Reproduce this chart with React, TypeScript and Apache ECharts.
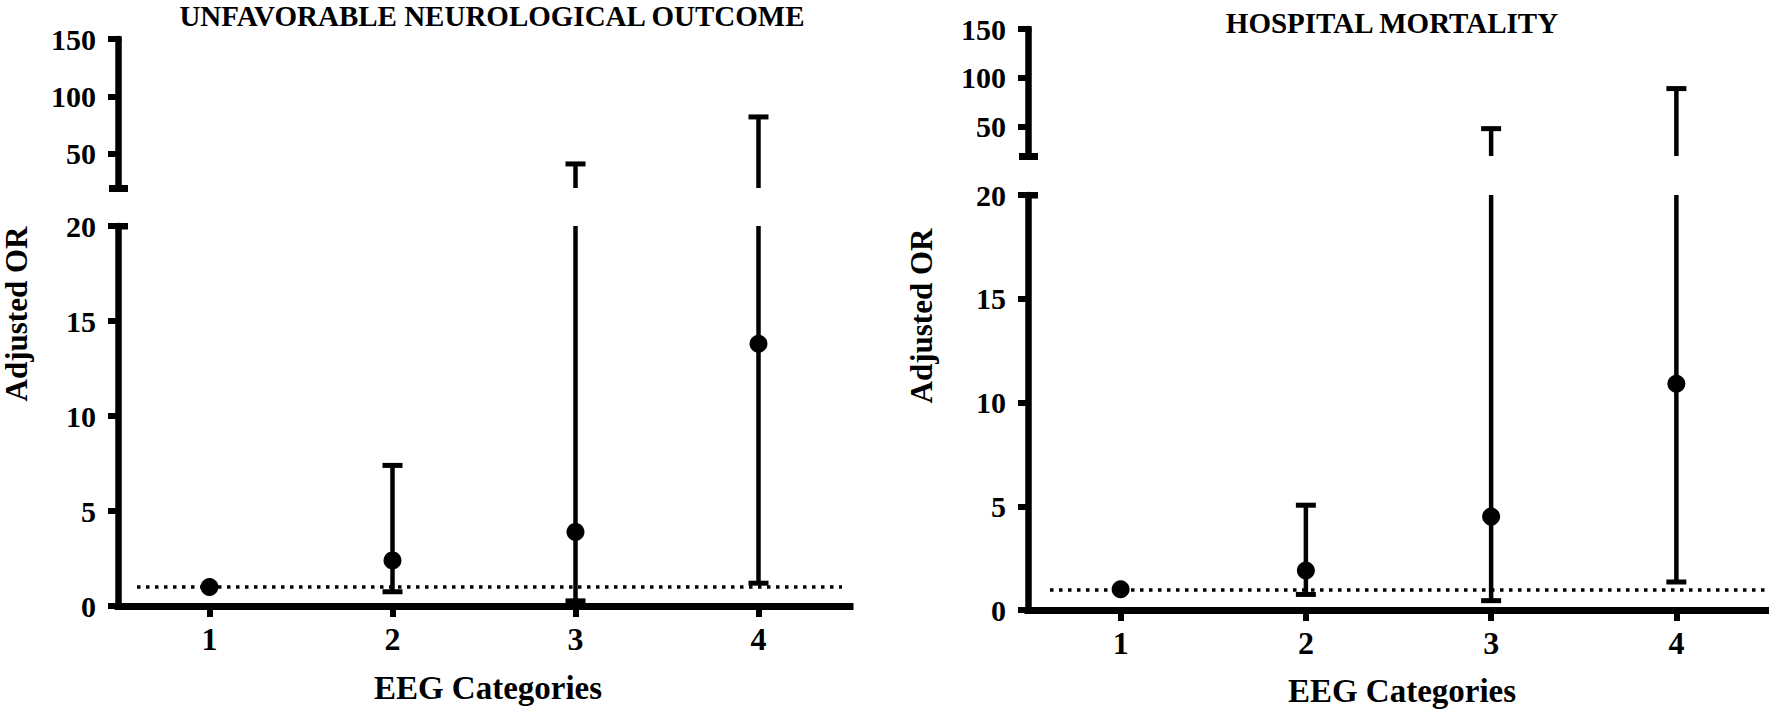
import React, { useEffect, useRef } from "react";
import * as echarts from "echarts";

const FONT = '"Liberation Serif", "Times New Roman", serif';

// ---- data ----
const categories = ["1", "2", "3", "4"];
const leftTitle = "UNFAVORABLE NEUROLOGICAL OUTCOME";
const rightTitle = "HOSPITAL MORTALITY";
const yAxisTitle = "Adjusted OR";
const xAxisTitle = "EEG Categories";

const leftPoints = [1, 2.4, 3.9, 13.8];
const leftLower = [null, 0.75, 0.27, 1.2];
const leftUpper = [null, 7.4, 41, 82];

const rightPoints = [1, 1.9, 4.5, 10.9];
const rightLower = [null, 0.75, 0.45, 1.35];
const rightUpper = [null, 5.05, 48, 89];

const referenceLine = 1;
const lowerRange = [0, 20];
const lowerInterval = 5;
const upperRange = [20, 150];
const upperTickValues = [50, 100, 150];

// ---- layout ----
const panels = [
  {
    title: leftTitle, points: leftPoints, lo: leftLower, hi: leftUpper,
    left: 118, width: 732, upTop: 39, upBottom: 188, lowTop: 226, lowBottom: 606,
    titleX: 492, titleY: 16, yNameX: 16, yNameY: 314, xNameX: 488, xNameY: 688,
    dotStart: 19, dotEnd: 8,
  },
  {
    title: rightTitle, points: rightPoints, lo: rightLower, hi: rightUpper,
    left: 1028, width: 741, upTop: 29, upBottom: 156, lowTop: 195, lowBottom: 610,
    titleX: 1392, titleY: 23, yNameX: 921, yNameY: 316, xNameX: 1402, xNameY: 691,
    dotStart: 22, dotEnd: 0,
  },
];

const BAR_W = 4.5;
const CAP_HALF = 10;
const CAP_W = 5;

function makeRender(min: number, max: number) {
  return (params: any, api: any) => {
    const x = api.value(0);
    const lo = api.value(1);
    const hi = api.value(2);
    const a = Math.max(lo, min);
    const b = Math.min(hi, max);
    if (!(b > a)) return null;
    const p1 = api.coord([x, a]);
    const p2 = api.coord([x, b]);
    const children: any[] = [
      { type: "line", shape: { x1: p1[0], y1: p1[1], x2: p2[0], y2: p2[1] }, style: { stroke: "#000", lineWidth: BAR_W } },
    ];
    if (lo >= min) {
      children.push({ type: "line", shape: { x1: p1[0] - CAP_HALF, y1: p1[1], x2: p1[0] + CAP_HALF, y2: p1[1] }, style: { stroke: "#000", lineWidth: CAP_W } });
    }
    if (hi <= max) {
      children.push({ type: "line", shape: { x1: p2[0] - CAP_HALF, y1: p2[1], x2: p2[0] + CAP_HALF, y2: p2[1] }, style: { stroke: "#000", lineWidth: CAP_W } });
    }
    return { type: "group", children };
  };
}

function buildOption() {
  const grid: any[] = [];
  const xAxis: any[] = [];
  const yAxis: any[] = [];
  const series: any[] = [];
  const graphic: any[] = [];

  const labelStyle = { color: "#000", fontFamily: FONT, fontWeight: "bold" };

  panels.forEach((p, i) => {
    const up = 2 * i;
    const low = 2 * i + 1;
    grid.push({ left: p.left, width: p.width, top: p.upTop, height: p.upBottom - p.upTop, containLabel: false });
    grid.push({ left: p.left, width: p.width, top: p.lowTop, height: p.lowBottom - p.lowTop, containLabel: false });

    xAxis.push({ type: "category", gridIndex: up, data: categories, show: false });
    xAxis.push({
      type: "category", gridIndex: low, data: categories,
      axisLine: { lineStyle: { color: "#000", width: 7, cap: "square" } },
      axisTick: { show: true, alignWithLabel: true, length: 11, lineStyle: { color: "#000", width: 6 } },
      axisLabel: { ...labelStyle, fontSize: 32, margin: 17 },
      splitLine: { show: false },
    });

    yAxis.push({
      type: "value", gridIndex: up, min: upperRange[0], max: upperRange[1],
      axisLine: { show: true, lineStyle: { color: "#000", width: 6.5 } },
      axisTick: { show: true, length: 10, customValues: upperTickValues, lineStyle: { color: "#000", width: 6 } },
      axisLabel: { ...labelStyle, fontSize: 30, margin: 22, customValues: upperTickValues },
      splitLine: { show: false },
    });
    yAxis.push({
      type: "value", gridIndex: low, min: lowerRange[0], max: lowerRange[1], interval: lowerInterval,
      axisLine: { show: true, lineStyle: { color: "#000", width: 6.5 } },
      axisTick: { show: true, length: 10, lineStyle: { color: "#000", width: 6 } },
      axisLabel: { ...labelStyle, fontSize: 30, margin: 22 },
      splitLine: { show: false },
    });

    const ciData = categories
      .map((_, k) => (p.lo[k] == null || p.hi[k] == null ? null : [k, p.lo[k], p.hi[k]]))
      .filter((d) => d !== null);

    series.push({
      type: "custom", xAxisIndex: up, yAxisIndex: up, data: ciData,
      encode: { x: 0, y: [1, 2] }, renderItem: makeRender(upperRange[0], upperRange[1]), clip: false, z: 3,
    });
    series.push({
      type: "custom", xAxisIndex: low, yAxisIndex: low, data: ciData,
      encode: { x: 0, y: [1, 2] }, renderItem: makeRender(lowerRange[0], lowerRange[1]), clip: false, z: 3,
    });
    series.push({
      type: "scatter", xAxisIndex: low, yAxisIndex: low,
      data: p.points.map((v, k) => [k, v]),
      symbol: "circle", symbolSize: 18, itemStyle: { color: "#000", opacity: 1 }, z: 5,
      markLine: {
        silent: true, symbol: ["none", "none"], label: { show: false },
        lineStyle: { color: "#000", type: [3.5, 5.5], width: 3.5, opacity: 1 },
        data: [[
          { x: p.left + p.dotStart, yAxis: referenceLine },
          { x: p.left + p.width - p.dotEnd, yAxis: referenceLine },
        ]],
        z: 2,
      },
    });

    // axis end caps (break marks)
    graphic.push({ type: "rect", shape: { x: p.left - 3, y: p.lowTop - 3, width: 13, height: 6.5 }, style: { fill: "#000" } });
    graphic.push({ type: "rect", shape: { x: p.left - 10, y: p.upTop - 3, width: 13.5, height: 6 }, style: { fill: "#000" } });
    graphic.push({ type: "rect", shape: { x: p.left - 9, y: p.upBottom - 3, width: 19, height: 7 }, style: { fill: "#000" } });

    // titles and axis names
    graphic.push({
      type: "text", x: p.titleX, y: p.titleY,
      style: { text: p.title, fontFamily: FONT, fontWeight: "bold", fontSize: 29, fill: "#000", align: "center", verticalAlign: "middle" },
    });
    graphic.push({
      type: "text", x: p.yNameX, y: p.yNameY, rotation: Math.PI / 2,
      style: { text: yAxisTitle, fontFamily: FONT, fontWeight: "bold", fontSize: 31, fill: "#000", align: "center", verticalAlign: "middle" },
    });
    graphic.push({
      type: "text", x: p.xNameX, y: p.xNameY,
      style: { text: xAxisTitle, fontFamily: FONT, fontWeight: "bold", fontSize: 33, fill: "#000", align: "center", verticalAlign: "middle" },
    });
  });

  return {
    animation: false,
    backgroundColor: "#fff",
    grid, xAxis, yAxis, series, graphic,
  };
}

export default function App() {
  const ref = useRef<HTMLDivElement>(null);
  useEffect(() => {
    if (!ref.current) return;
    const chart = echarts.init(ref.current, null, { renderer: "svg" });
    chart.setOption(buildOption() as any);
    return () => chart.dispose();
  }, []);
  return (
    <div
      ref={ref}
      style={{ position: "fixed", left: 0, top: 0, width: 1769, height: 710, background: "#fff" }}
    />
  );
}
